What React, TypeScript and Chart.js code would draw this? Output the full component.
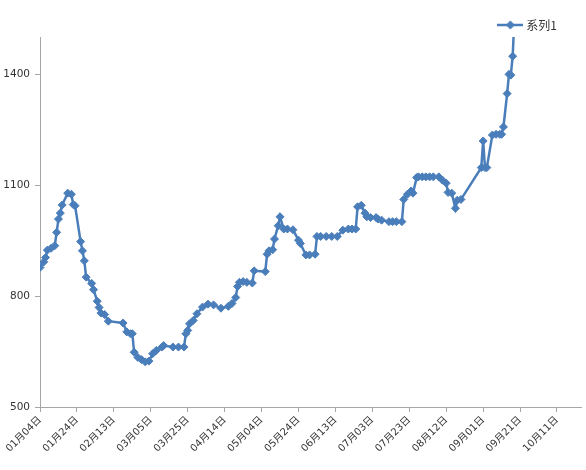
import React, { useEffect, useRef } from "react";
import { Chart, registerables } from "chart.js";

Chart.register(...registerables);

const seriesName = "系列1";

// x = day of year (non-leap year, 1 = 01月01日)
const days = [
  4, 6, 7, 8, 10, 12, 13, 14, 15, 16,
  19, 21, 22, 23, 26, 27, 28, 29, 32, 33,
  35, 36, 37, 39, 41, 49, 51, 53, 54, 55,
  57, 59, 61, 63, 65, 67, 70, 71, 76, 79,
  82, 83, 84, 85, 87, 89, 92, 95, 98, 102,
  106, 108, 110, 111, 112, 114, 116, 119, 120, 126,
  127, 128, 130, 131, 133, 134, 136, 138, 141, 144,
  145, 148, 150, 153, 154, 156, 159, 162, 165, 168,
  171, 173, 175, 176, 178, 180, 181, 183, 186, 187,
  189, 193, 195, 197, 200, 201, 203, 205, 206, 208,
  209, 211, 213, 215, 217, 220, 222, 224, 225, 227,
  229, 230, 232, 243, 244, 245, 246, 249, 251, 253,
  254, 255, 257, 258, 259, 260, 261,
];

const values = [
  877, 892, 904, 924, 929, 936, 972, 1008, 1024, 1046,
  1078, 1075, 1047, 1044, 947, 922, 895, 851, 834, 817,
  786, 769, 754, 750, 732, 727, 703, 698, 698, 648,
  634, 628, 622, 624, 644, 653, 662, 666, 662, 662,
  662, 698, 707, 725, 734, 752, 770, 778, 776, 767,
  772, 780, 796, 826, 837, 839, 837, 835, 868, 866,
  913, 922, 925, 954, 990, 1014, 981, 981, 979, 951,
  942, 911, 911, 913, 961, 961, 961, 961, 961, 978,
  981, 981, 981, 1041, 1045, 1024, 1014, 1012, 1012, 1008,
  1005, 1001, 1001, 1001, 1001, 1061, 1075, 1084, 1078, 1120,
  1122, 1122, 1122, 1122, 1122, 1122, 1113, 1105, 1080, 1078,
  1037, 1059, 1061, 1147, 1219, 1147, 1147, 1235, 1237, 1237,
  1237, 1257, 1347, 1399, 1397, 1448, 1560,
];

const xTickDays = [4, 24, 44, 64, 84, 104, 124, 144, 164, 184, 204, 224, 244, 264, 284];
const xTickLabels = [
  "01月04日", "01月24日", "02月13日", "03月05日", "03月25日",
  "04月14日", "05月04日", "05月24日", "06月13日", "07月03日",
  "07月23日", "08月12日", "09月01日", "09月21日", "10月11日",
];
const yTicks = [500, 800, 1100, 1400];

const X_MIN = 4;
const X_MAX = 297;
const Y_MIN = 500;
const Y_MAX = 1500;

const BLUE = "#4A7EBB";
const AXIS = "#a6a6a6";
const TEXT = "#333333";

export default function App() {
  const ref = useRef<HTMLCanvasElement | null>(null);

  useEffect(() => {
    const canvas = ref.current;
    if (!canvas) return;

    // legend symbol: short line with a diamond marker
    const sym = document.createElement("canvas");
    sym.width = 26;
    sym.height = 10;
    const sctx = sym.getContext("2d");
    if (sctx) {
      sctx.strokeStyle = BLUE;
      sctx.lineWidth = 2.5;
      sctx.beginPath();
      sctx.moveTo(0, 5);
      sctx.lineTo(26, 5);
      sctx.stroke();
      sctx.fillStyle = BLUE;
      sctx.beginPath();
      sctx.moveTo(8.5, 5);
      sctx.lineTo(13, 0.5);
      sctx.lineTo(17.5, 5);
      sctx.lineTo(13, 9.5);
      sctx.closePath();
      sctx.fill();
    }

    const legendShift = {
      id: "legendShift",
      afterLayout(chart: any) {
        const lg = chart.legend;
        if (lg) {
          lg.left -= 10;
          lg.right -= 10;
        }
      },
    };

    const chart = new Chart(canvas, {
      type: "line",
      data: {
        datasets: [
          {
            label: seriesName,
            data: days.map((d, i) => ({ x: d, y: values[i] })),
            borderColor: BLUE,
            backgroundColor: BLUE,
            borderWidth: 2.5,
            pointStyle: "rectRot",
            pointRadius: 4,
            pointBorderWidth: 1,
            pointBackgroundColor: BLUE,
            pointBorderColor: BLUE,
            tension: 0,
            fill: false,
          },
        ],
      },
      options: {
        animation: false,
        responsive: false,
        devicePixelRatio: 1,
        layout: { padding: 0 },
        plugins: {
          legend: {
            display: true,
            position: "top",
            align: "end",
            maxHeight: 37,
            labels: {
              usePointStyle: true,
              pointStyleWidth: 20,
              padding: 19,
              color: TEXT,
              font: { family: '"Noto Sans CJK SC", "DejaVu Sans", sans-serif', size: 12 },
              generateLabels: (ch: any) => {
                const items = Chart.defaults.plugins.legend.labels.generateLabels(ch);
                items.forEach((it: any) => {
                  it.pointStyle = sym;
                });
                return items;
              },
            },
          },
          tooltip: { enabled: false },
        },
        scales: {
          x: {
            type: "linear",
            min: X_MIN,
            max: X_MAX,
            afterBuildTicks: (s: any) => {
              s.ticks = xTickDays.map((v) => ({ value: v }));
            },
            afterFit: (s: any) => {
              s.height = 63;
            },
            grid: {
              display: true,
              drawOnChartArea: false,
              drawTicks: true,
              tickLength: 5,
              tickColor: AXIS,
            },
            border: { display: true, color: AXIS, width: 1 },
            ticks: {
              autoSkip: false,
              minRotation: 45,
              maxRotation: 45,
              padding: 2,
              color: TEXT,
              font: { family: '"DejaVu Sans", "Noto Sans CJK SC", sans-serif', size: 10 },
              callback: (v: any) => {
                const idx = xTickDays.indexOf(Number(v));
                return idx >= 0 ? xTickLabels[idx] : "";
              },
            },
          },
          y: {
            type: "linear",
            min: Y_MIN,
            max: Y_MAX,
            afterBuildTicks: (s: any) => {
              s.ticks = yTicks.map((v) => ({ value: v }));
            },
            afterFit: (s: any) => {
              s.width = 40;
            },
            grid: {
              display: true,
              drawOnChartArea: false,
              drawTicks: true,
              tickLength: 5,
              tickColor: AXIS,
            },
            border: { display: true, color: AXIS, width: 1 },
            ticks: {
              padding: 5,
              color: TEXT,
              font: { family: '"DejaVu Sans", sans-serif', size: 10.5 },
              callback: (v: any) => String(v),
            },
          },
        },
      },
      plugins: [legendShift],
    } as any);

    return () => {
      chart.destroy();
    };
  }, []);

  return (
    <div
      style={{
        position: "fixed",
        left: 0,
        top: 0,
        width: 586,
        height: 470,
        background: "#ffffff",
      }}
    >
      <canvas ref={ref} width={586} height={470} style={{ width: 586, height: 470, display: "block" }} />
    </div>
  );
}
